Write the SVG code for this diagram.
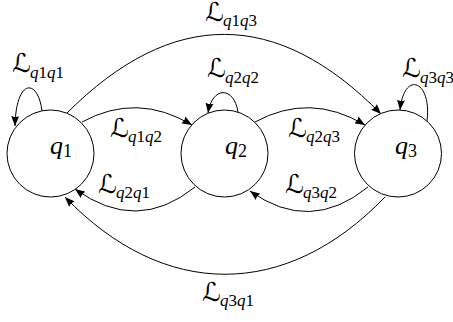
<svg xmlns="http://www.w3.org/2000/svg" width="453" height="322" viewBox="0 0 453 322">
<style>
.node{fill:#fff;stroke:#000;stroke-width:1}
.edge{fill:none;stroke:#000;stroke-width:1;marker-end:url(#tip)}
.cal{font-family:"DejaVu Serif","DejaVu Sans",serif;font-size:26px}
.t{font-family:"Liberation Serif","Times New Roman",serif}
.q{font-family:"Liberation Serif","Times New Roman",serif;font-style:italic}
.d{font-family:"Liberation Serif","Times New Roman",serif;font-style:normal}
.nl{font-size:26px}
.sl{font-size:17px}
.ns{font-size:18px}
</style>
<defs>
<marker id="tip" markerUnits="userSpaceOnUse" markerWidth="10" markerHeight="8" refX="10" refY="4" orient="auto">
<path d="M0,0 L10,4 L0,8 Q2,4 0,0 z" fill="#000"/>
</marker>
</defs>
<rect width="453" height="322" fill="#fff"/>
<g id="connectors">
<g id="e-q1q1"><path class="edge" d="M42,111 C38,78 16,78 15,126"/><text class="cal" x="12" y="72">ℒ</text><text class="t sl" y="78"><tspan class="q" x="30">q</tspan><tspan class="d">1</tspan><tspan class="q">q</tspan><tspan class="d">1</tspan></text></g>
<g id="e-q2q2"><path class="edge" d="M238,112 C234,86 212,86 208,113"/><text class="cal" x="207" y="77">ℒ</text><text class="t sl" y="83"><tspan class="q" x="225">q</tspan><tspan class="d">2</tspan><tspan class="q">q</tspan><tspan class="d">2</tspan></text></g>
<g id="e-q3q3"><path class="edge" d="M427,121 C432,80 404,70 400,110"/><text class="cal" x="402" y="77">ℒ</text><text class="t sl" y="83"><tspan class="q" x="420">q</tspan><tspan class="d">3</tspan><tspan class="q">q</tspan><tspan class="d">3</tspan></text></g>
<g id="e-q1q3"><path class="edge" d="M67,113 C172,8 277,8 381,114"/><text class="cal" x="205" y="21">ℒ</text><text class="t sl" y="26"><tspan class="q" x="223">q</tspan><tspan class="d">1</tspan><tspan class="q">q</tspan><tspan class="d">3</tspan></text></g>
<g id="e-q1q2"><path class="edge" d="M82,122 Q137,92 192,125"/><text class="cal" x="110" y="137">ℒ</text><text class="t sl" y="142"><tspan class="q" x="128">q</tspan><tspan class="d">1</tspan><tspan class="q">q</tspan><tspan class="d">2</tspan></text></g>
<g id="e-q2q3"><path class="edge" d="M255,122 Q310,92 365,125"/><text class="cal" x="288" y="137">ℒ</text><text class="t sl" y="142"><tspan class="q" x="306">q</tspan><tspan class="d">2</tspan><tspan class="q">q</tspan><tspan class="d">3</tspan></text></g>
<g id="e-q2q1"><path class="edge" d="M195,187 Q137,234 75,189"/><text class="cal" x="98" y="193">ℒ</text><text class="t sl" y="198"><tspan class="q" x="116">q</tspan><tspan class="d">2</tspan><tspan class="q">q</tspan><tspan class="d">1</tspan></text></g>
<g id="e-q3q2"><path class="edge" d="M368,187 Q310,234 250,191"/><text class="cal" x="285" y="193">ℒ</text><text class="t sl" y="198"><tspan class="q" x="303">q</tspan><tspan class="d">3</tspan><tspan class="q">q</tspan><tspan class="d">2</tspan></text></g>
<g id="e-q3q1"><path class="edge" d="M385,197 C286,300 164,300 65,197"/><text class="cal" x="202" y="301">ℒ</text><text class="t sl" y="306"><tspan class="q" x="220">q</tspan><tspan class="d">3</tspan><tspan class="q">q</tspan><tspan class="d">1</tspan></text></g>
</g>
<g id="q1"><circle class="node" cx="50.5" cy="153.5" r="43.5"/><text class="t" y="154"><tspan class="q nl" x="50">q</tspan><tspan class="d ns" dy="3">1</tspan></text></g>
<g id="q2"><circle class="node" cx="224.5" cy="153.5" r="43.5"/><text class="t" y="154"><tspan class="q nl" x="225">q</tspan><tspan class="d ns" dy="3">2</tspan></text></g>
<g id="q3"><circle class="node" cx="398" cy="153.5" r="43.5"/><text class="t" y="154"><tspan class="q nl" x="395">q</tspan><tspan class="d ns" dy="3">3</tspan></text></g>
</svg>
